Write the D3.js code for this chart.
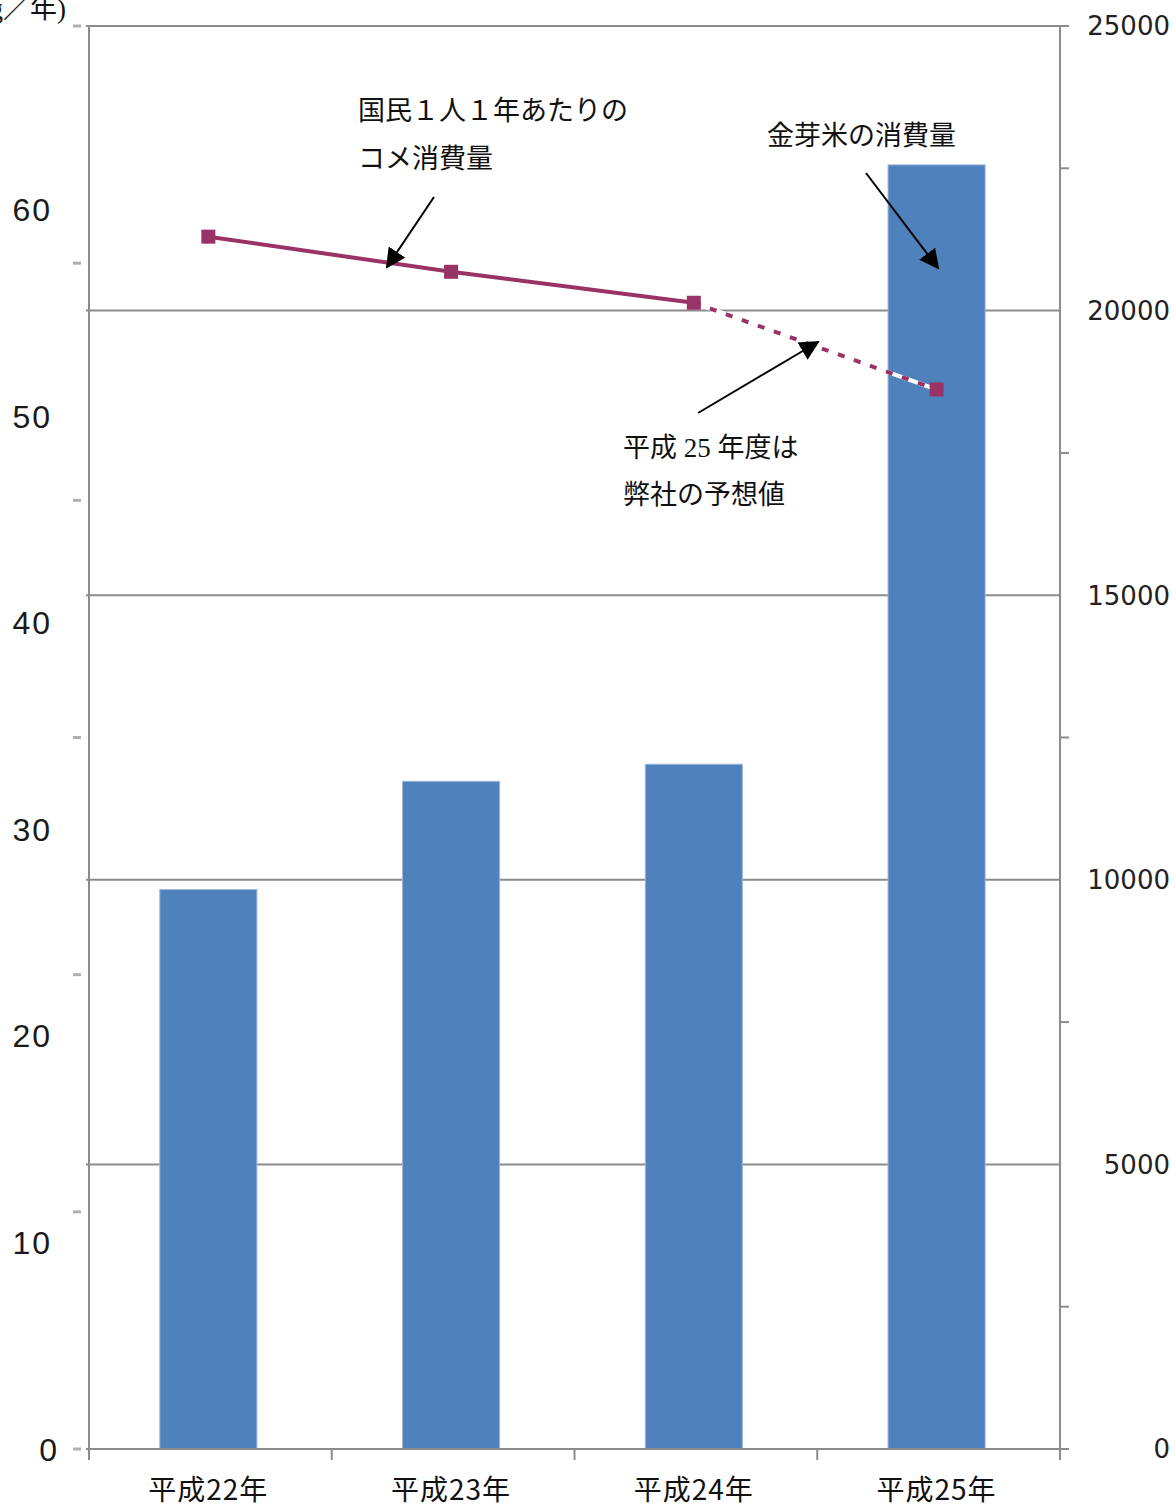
<!DOCTYPE html>
<html>
<head>
<meta charset="utf-8">
<script src="https://cdn.jsdelivr.net/npm/d3@7"></script>
<style>
  body { margin: 0; background: #fff; }
  .note { font-family: "Liberation Serif", "Noto Sans CJK JP", serif; font-size: 27px; fill: #111; }
</style>
</head>
<body>
<div id="chart"></div>
<script>
// categories and series
const categories = ["平成22年", "平成23年", "平成24年", "平成25年"];
const kinmemaiValues = [9830, 11730, 12030, 22560];   // 金芽米の消費量 (right axis)
const riceValues = [58.7, 57.0, 55.5, 51.3];           // 国民1人1年あたりのコメ消費量 (left axis)
const leftTickLabels = [0, 10, 20, 30, 40, 50, 60];
const rightTickLabels = [0, 5000, 10000, 15000, 20000, 25000];

var margin = { top: 26, right: 116, bottom: 59, left: 89 },
    width = 1176 - margin.left - margin.right,
    height = 1508 - margin.top - margin.bottom;

var svg = d3.select("#chart")
    .append("svg")
    .attr("width", 1176)
    .attr("height", 1508)
    .append("g")
    .attr("transform", "translate(" + margin.left + "," + margin.top + ")");

// scales
var x = d3.scaleBand()
    .domain(categories)
    .range([0, width])
    .paddingInner(0.6)
    .paddingOuter(0.3)
    .align(0.486);

var yR = d3.scaleLinear().domain([0, 25000]).range([height, 0]);
var yL = d3.scaleLinear().domain([0, 68.9]).range([height, 0]);
// the faint stray ticks on the left side sit on an even 6-step grid
var yT = d3.scaleLinear().domain([0, 6]).range([height, 0]);

var step = width / categories.length;
var axisColor = "#8c8c8c";

// gridlines (right axis values)
svg.append("g")
    .selectAll("line")
    .data(rightTickLabels.filter(d => d > 0))
    .enter().append("line")
    .attr("x1", -3)
    .attr("x2", width)
    .attr("y1", d => yR(d))
    .attr("y2", d => yR(d))
    .style("stroke", axisColor)
    .style("stroke-width", 2);

// bars
svg.selectAll(".bar")
    .data(categories)
    .enter().append("rect")
    .attr("class", "bar")
    .attr("x", d => x(d))
    .attr("width", x.bandwidth())
    .attr("y", (d, i) => yR(kinmemaiValues[i]))
    .attr("height", (d, i) => height - yR(kinmemaiValues[i]))
    .style("fill", "#4f81bd")
    .style("stroke", "#9db8da")
    .style("stroke-width", 1);

// left axis line
svg.append("line")
    .attr("x1", 0).attr("x2", 0)
    .attr("y1", 0).attr("y2", height + 11)
    .style("stroke", axisColor).style("stroke-width", 2);

// right axis line
svg.append("line")
    .attr("x1", width).attr("x2", width)
    .attr("y1", 0).attr("y2", height + 11)
    .style("stroke", axisColor).style("stroke-width", 2);

// bottom axis line
svg.append("line")
    .attr("x1", -3).attr("x2", width + 9)
    .attr("y1", height).attr("y2", height)
    .style("stroke", axisColor).style("stroke-width", 2);

// top border
svg.append("line")
    .attr("x1", 0).attr("x2", width + 9)
    .attr("y1", 0).attr("y2", 0)
    .style("stroke", axisColor).style("stroke-width", 2);

// x ticks at the band boundaries
svg.append("g")
    .selectAll("line")
    .data(d3.range(categories.length + 1))
    .enter().append("line")
    .attr("x1", i => i * step)
    .attr("x2", i => i * step)
    .attr("y1", height)
    .attr("y2", height + 11)
    .style("stroke", axisColor)
    .style("stroke-width", 2);

// right minor ticks
svg.append("g")
    .selectAll("line")
    .data(d3.range(0, 25001, 2500).filter(d => d % 5000 != 0 || d == 0 || d == 25000))
    .enter().append("line")
    .attr("x1", width)
    .attr("x2", width + 9)
    .attr("y1", d => yR(d))
    .attr("y2", d => yR(d))
    .style("stroke", axisColor)
    .style("stroke-width", 2);

// stray left ticks
svg.append("g")
    .selectAll("line")
    .data(d3.range(0, 7))
    .enter().append("line")
    .attr("x1", -16)
    .attr("x2", -8)
    .attr("y1", d => yT(d))
    .attr("y2", d => yT(d))
    .style("stroke", "#b0b0b0")
    .style("stroke-width", 3);

// x labels
svg.append("g")
    .selectAll("text")
    .data(categories)
    .enter().append("text")
    .attr("x", d => x(d) + x.bandwidth() / 2)
    .attr("y", height + 41)
    .attr("dy", "0.35em")
    .attr("text-anchor", "middle")
    .style("font-family", "'Noto Sans CJK JP', sans-serif")
    .style("font-size", "28px")
    .style("letter-spacing", "1px")
    .style("fill", "#111")
    .text(d => d);

// left labels
svg.append("g")
    .selectAll("text")
    .data(leftTickLabels)
    .enter().append("text")
    .attr("x", d => d == 0 ? -30 : -37)
    .attr("y", d => yL(d))
    .attr("dy", "0.36em")
    .attr("text-anchor", "end")
    .style("font-family", "'Liberation Sans', sans-serif")
    .style("font-size", "32px")
    .style("letter-spacing", "2px")
    .style("fill", "#1a1a1a")
    .text(d => d);

// right labels
svg.append("g")
    .selectAll("text")
    .data(rightTickLabels)
    .enter().append("text")
    .attr("x", width + 110)
    .attr("y", d => yR(d))
    .attr("dy", "0.36em")
    .attr("text-anchor", "end")
    .style("font-family", "'DejaVu Sans', sans-serif")
    .style("font-size", "26px")
    .style("fill", "#222")
    .text(d => d);

// rice consumption line: solid for actual, dotted for the forecast
var cx = i => x(categories[i]) + x.bandwidth() / 2;
var line = d3.line()
    .x(d => cx(d.i))
    .y(d => yL(d.v));

var pts = riceValues.map((v, i) => ({ i: i, v: v }));
var lineColor = "#993366";

svg.append("path")
    .datum(pts.slice(0, 3))
    .attr("d", line)
    .style("fill", "none")
    .style("stroke", lineColor)
    .style("stroke-width", 4);

svg.append("path")
    .datum(pts.slice(2))
    .attr("d", line)
    .style("fill", "none")
    .style("stroke", "#fff")
    .style("stroke-width", 4);

svg.append("path")
    .datum(pts.slice(2))
    .attr("d", line)
    .style("fill", "none")
    .style("stroke", lineColor)
    .style("stroke-width", 4)
    .style("stroke-dasharray", "7,10");

svg.selectAll(".marker")
    .data(pts)
    .enter().append("rect")
    .attr("class", "marker")
    .attr("x", d => cx(d.i) - 7)
    .attr("y", d => yL(d.v) - 7)
    .attr("width", 14)
    .attr("height", 14)
    .style("fill", lineColor);

// annotations (drawn in page coordinates)
var page = d3.select("#chart svg");

page.append("defs").append("marker")
    .attr("id", "arrow")
    .attr("viewBox", "0 0 10 10")
    .attr("refX", 9)
    .attr("refY", 5)
    .attr("markerWidth", 20)
    .attr("markerHeight", 20)
    .attr("markerUnits", "userSpaceOnUse")
    .attr("orient", "auto")
    .append("path")
    .attr("d", "M0,0 L10,5 L0,10 Z")
    .style("fill", "#000");

var arrows = [
    [434, 197, 387, 267],
    [866, 173, 938, 268],
    [698, 413, 818, 342]
];
page.append("g")
    .selectAll("line")
    .data(arrows)
    .enter().append("line")
    .attr("x1", d => d[0]).attr("y1", d => d[1])
    .attr("x2", d => d[2]).attr("y2", d => d[3])
    .style("stroke", "#000")
    .style("stroke-width", 2)
    .attr("marker-end", "url(#arrow)");

var notes = [
    ["国民１人１年あたりの", 358, 110],
    ["コメ消費量", 358, 158],
    ["金芽米の消費量", 767, 135],
    ["平成 25 年度は", 623, 447],
    ["弊社の予想値", 623, 494]
];
page.append("g")
    .selectAll("text")
    .data(notes)
    .enter().append("text")
    .attr("class", "note")
    .attr("x", d => d[1])
    .attr("y", d => d[2])
    .attr("dy", "0.36em")
    .text(d => d[0]);

// unit label, cut off at the left edge
page.append("text")
    .attr("class", "note")
    .attr("x", 66)
    .attr("y", 8)
    .attr("dy", "0.36em")
    .attr("text-anchor", "end")
    .text("(kg／年)");
</script>
</body>
</html>
